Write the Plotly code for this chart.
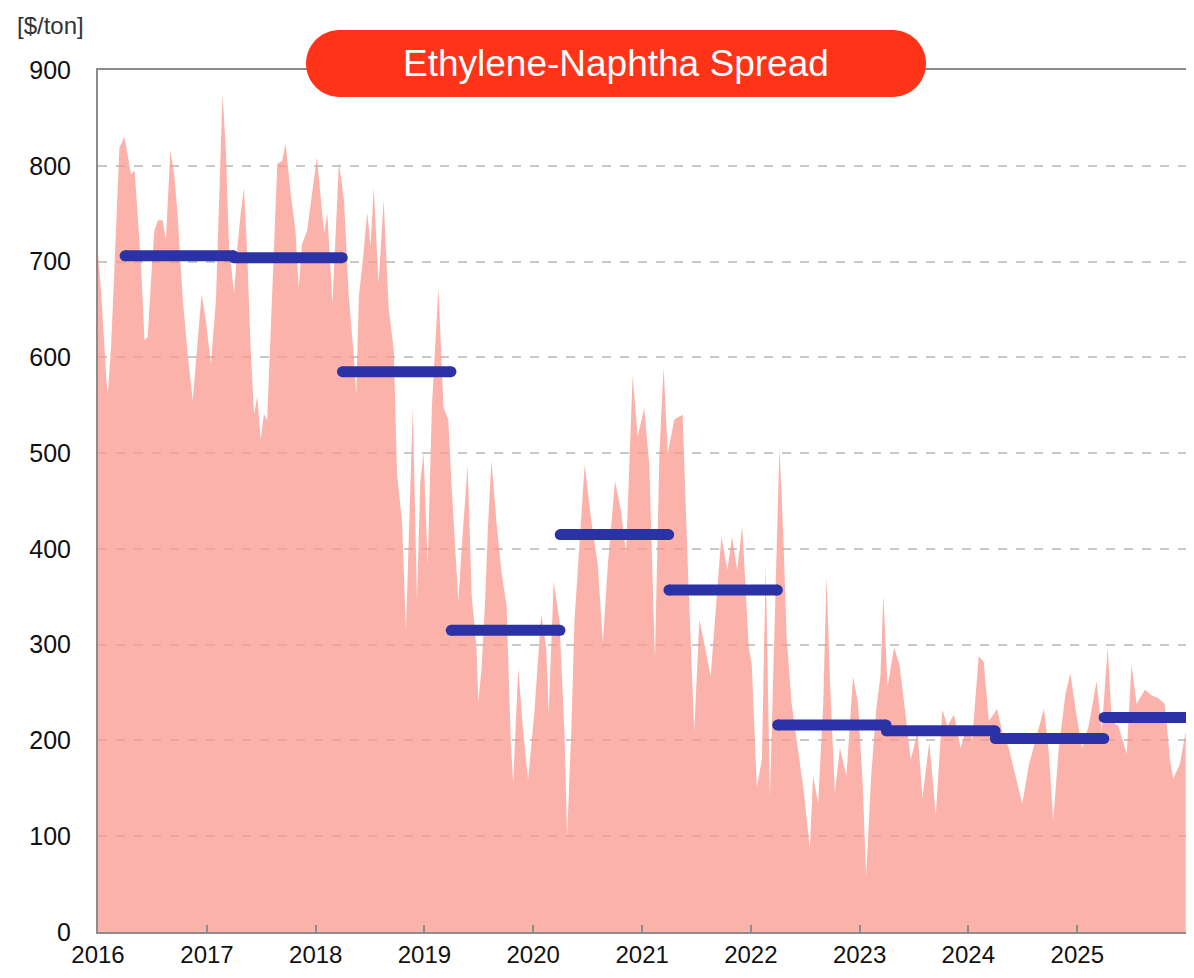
import plotly.graph_objects as go

dates = [
    # 2016
    "2016-01-01","2016-01-12","2016-01-29","2016-02-03","2016-02-14","2016-02-25","2016-03-02","2016-03-13",
    "2016-03-30","2016-04-10","2016-04-21","2016-05-03","2016-05-14","2016-05-25","2016-06-05","2016-06-16",
    "2016-06-27","2016-07-08","2016-07-20","2016-08-05","2016-08-16","2016-08-31","2016-09-13","2016-09-24",
    "2016-10-11","2016-10-28","2016-11-14","2016-11-30","2016-12-14","2016-12-28",
    # 2017
    "2017-01-14","2017-01-31","2017-02-11","2017-02-22","2017-03-05","2017-03-16","2017-04-02","2017-04-13",
    "2017-04-24","2017-05-05","2017-05-16","2017-05-27","2017-06-08","2017-06-19","2017-06-30","2017-07-11",
    "2017-07-22","2017-08-02","2017-08-14","2017-08-25","2017-09-10","2017-09-22","2017-10-08","2017-10-25",
    "2017-11-05","2017-11-16","2017-12-03","2017-12-20",
    # 2018
    "2018-01-05","2018-01-29","2018-02-09","2018-02-26","2018-03-09","2018-03-20","2018-04-06","2018-04-22",
    "2018-05-09","2018-05-17","2018-05-26","2018-06-06","2018-06-23","2018-07-04","2018-07-15","2018-07-31",
    "2018-08-17","2018-09-03","2018-09-20","2018-10-01","2018-10-18","2018-10-31","2018-11-14","2018-11-23",
    "2018-12-07","2018-12-18","2018-12-29",
    # 2019
    "2019-01-12","2019-01-26","2019-02-17","2019-03-06","2019-03-22","2019-04-03","2019-04-14","2019-04-25",
    "2019-05-06","2019-05-26","2019-06-09","2019-06-25","2019-07-01","2019-07-12","2019-07-23","2019-08-03",
    "2019-08-14","2019-08-31","2019-09-17","2019-10-04","2019-10-18","2019-10-26","2019-11-12","2019-11-28",
    "2019-12-15",
    # 2020
    "2020-01-06","2020-01-28","2020-02-14","2020-02-22","2020-03-10","2020-03-29","2020-04-15","2020-04-24",
    "2020-05-08","2020-05-19","2020-06-22","2020-07-14","2020-08-05","2020-08-22","2020-09-08","2020-10-02",
    "2020-10-22","2020-11-08","2020-11-30","2020-12-17",
    # 2021
    "2021-01-08","2021-01-25","2021-02-13","2021-02-28","2021-03-14","2021-03-28","2021-04-19","2021-05-17",
    "2021-06-03","2021-06-25","2021-07-12","2021-07-28","2021-08-19","2021-09-24","2021-10-14","2021-10-30",
    "2021-11-16","2021-12-03","2021-12-25",
    # 2022
    "2022-01-04","2022-01-21","2022-02-07","2022-02-20","2022-03-06","2022-03-28","2022-04-07","2022-04-20",
    "2022-05-01","2022-05-18","2022-06-04","2022-06-26","2022-07-18","2022-07-29","2022-08-15","2022-09-01",
    "2022-09-12","2022-09-23","2022-10-10","2022-10-27","2022-11-18","2022-12-10","2022-12-27",
    # 2023
    "2023-01-12","2023-01-23","2023-02-09","2023-02-26","2023-03-12","2023-03-22","2023-04-05","2023-04-27",
    "2023-05-15","2023-05-31","2023-06-22","2023-07-15","2023-07-31","2023-08-23","2023-09-14","2023-10-06",
    "2023-10-23","2023-11-14","2023-12-06","2023-12-29",
    # 2024
    "2024-01-03","2024-01-14","2024-02-05","2024-02-22","2024-03-10","2024-04-07","2024-04-24","2024-05-16",
    "2024-06-08","2024-06-30","2024-07-23","2024-08-20","2024-09-11","2024-09-28","2024-10-12","2024-10-31",
    "2024-11-23","2024-12-09","2024-12-26",
    # 2025
    "2025-01-17","2025-02-08","2025-03-07","2025-03-24","2025-04-13","2025-04-27","2025-05-19","2025-06-16",
    "2025-07-02","2025-07-19","2025-08-16","2025-09-08","2025-09-30","2025-10-22","2025-11-08","2025-11-19",
    "2025-12-11","2025-12-31",
]
spread = [
    # 2016
    708, 666, 576, 562, 611, 694, 750, 819,
    830, 809, 791, 795, 743, 694, 618, 621,
    680, 732, 743, 743, 722, 816, 791, 750,
    663, 604, 555, 611, 666, 639,
    # 2017
    593, 659, 774, 875, 819, 715, 666, 715,
    750, 777, 708, 611, 541, 559, 514, 541,
    534, 621, 732, 802, 805, 823, 774, 732,
    673, 718, 732, 770,
    # 2018
    809, 729, 751, 656, 729, 803, 764, 664,
    600, 561, 664, 695, 751, 716, 777, 677,
    764, 651, 608, 479, 427, 314, 457, 548,
    345, 470, 500,
    # 2019
    384, 548, 673, 548, 535, 461, 405, 345,
    401, 487, 349, 297, 241, 276, 340, 427,
    492, 427, 375, 340, 198, 155, 276, 211,
    159,
    # 2020
    232, 332, 297, 227, 366, 326, 209, 99,
    209, 326, 488, 430, 384, 302, 384, 471,
    440, 395, 581, 517,
    # 2021
    547, 488, 285, 500, 590, 500, 535, 540,
    384, 209, 326, 302, 267, 413, 378, 413,
    378, 424, 297,
    # 2022
    279, 151, 180, 384, 140, 413, 506, 413,
    308, 238, 198, 151, 87, 163, 134, 238,
    372, 267, 145, 192, 163, 267, 238,
    # 2023
    151, 58, 163, 232, 267, 352, 256, 297,
    279, 238, 180, 209, 140, 198, 122, 232,
    215, 227, 192, 215,
    # 2024
    215, 200, 288, 282, 220, 233, 209, 192,
    163, 134, 175, 209, 233, 186, 116, 192,
    250, 270, 233,
    # 2025
    192, 215, 262, 209, 297, 220, 215, 186,
    279, 238, 253, 247, 244, 238, 180, 160,
    175, 209,
]

# ---- fiscal-year averages (Apr-Mar) ----
fy_names = ["FY2016","FY2017","FY2018","FY2019","FY2020","FY2021","FY2022","FY2023","FY2024","FY2025"]
fy_start = ["2016-04-01","2017-04-01","2018-04-01","2019-04-01","2020-04-01",
            "2021-04-01","2022-04-01","2023-04-01","2024-04-01","2025-04-01"]
fy_end = ["2017-03-31","2018-03-31","2019-03-31","2020-03-31","2021-03-31",
          "2022-03-31","2023-03-31","2024-03-31","2025-03-31","2026-03-31"]
fy_avg = [706, 704, 585, 315, 415, 357, 216, 210, 202, 224]

year_ticks = ["2016-01-01","2017-01-01","2018-01-01","2019-01-01","2020-01-01",
              "2021-01-01","2022-01-01","2023-01-01","2024-01-01","2025-01-01"]
year_labels = ["2016","2017","2018","2019","2020","2021","2022","2023","2024","2025"]
y_ticks = [0, 100, 200, 300, 400, 500, 600, 700, 800, 900]

title_text = "Ethylene-Naphtha Spread"
unit_text = "[$/ton]"

FONT = "Liberation Sans, Arial, sans-serif"
BLUE = "#2B32A6"

fig = go.Figure()
fig.add_trace(go.Scatter(
    x=dates, y=spread, mode="lines", fill="tozeroy",
    fillcolor="rgba(248,152,142,0.75)", line=dict(width=0, color="rgba(248,152,142,0.75)"),
    hoverinfo="x+y", showlegend=False,
))
for name, s, e, v in zip(fy_names, fy_start, fy_end, fy_avg):
    fig.add_trace(go.Scatter(
        x=[s, e], y=[v, v], mode="lines+markers", name=name,
        line=dict(color=BLUE, width=11),
        marker=dict(color=BLUE, size=11, line=dict(width=0)),
        showlegend=False,
    ))

# pill-shaped title box (pixel-sized path)
a, r = 276.5, 33.5
k = 0.5523 * r
pill = (f"M {-a},{-r} L {a},{-r} "
        f"C {a+k},{-r} {a+r},{-k} {a+r},0 "
        f"C {a+r},{k} {a+k},{r} {a},{r} "
        f"L {-a},{r} "
        f"C {-a-k},{r} {-a-r},{k} {-a-r},0 "
        f"C {-a-r},{-k} {-a-k},{-r} {-a},{-r} Z")
TX, TY = 0.4761, 1.0075
fig.add_shape(type="path", path=pill, xref="paper", yref="paper",
              xsizemode="pixel", ysizemode="pixel", xanchor=TX, yanchor=TY,
              fillcolor="#FF3318", line=dict(width=0), layer="above")

fig.add_annotation(text=title_text, xref="paper", yref="paper", x=TX, y=TY,
                   xanchor="center", yanchor="middle", showarrow=False,
                   font=dict(family=FONT, size=37, color="white"))
fig.add_annotation(text=unit_text, xref="paper", yref="paper", x=-0.0441, y=1.0515,
                   xanchor="center", yanchor="middle", showarrow=False,
                   font=dict(family=FONT, size=24, color="#333333"))

# page body has an 8px margin: size the figure so nothing overflows the window
fig.update_layout(
    width=1178, height=962,
    margin=dict(l=90, r=0, t=62, b=38),
    paper_bgcolor="white", plot_bgcolor="white",
    font=dict(family=FONT, size=25, color="#111111"),
    showlegend=False,
)
fig.update_xaxes(
    type="date", range=["2016-01-01", "2026-01-01"],
    tickvals=year_ticks, ticktext=year_labels,
    ticks="inside", ticklen=7, tickwidth=2, tickcolor="#8c8c8c",
    showline=True, linecolor="#8c8c8c", linewidth=2, mirror=True,
    showgrid=False, zeroline=False, ticklabelstandoff=0, automargin=False,
    tickfont=dict(family=FONT, size=24, color="#111111"),
)
fig.update_yaxes(
    range=[0, 900], tickvals=y_ticks,
    ticks="", showline=True, linecolor="#8c8c8c", linewidth=2, mirror=True,
    showgrid=True, gridcolor="#c8c8c8", gridwidth=1.5, griddash="dash",
    zeroline=False, ticklabelstandoff=20, automargin=False,
    tickfont=dict(family=FONT, size=25, color="#111111"),
)

fig.write_html("out.html")
